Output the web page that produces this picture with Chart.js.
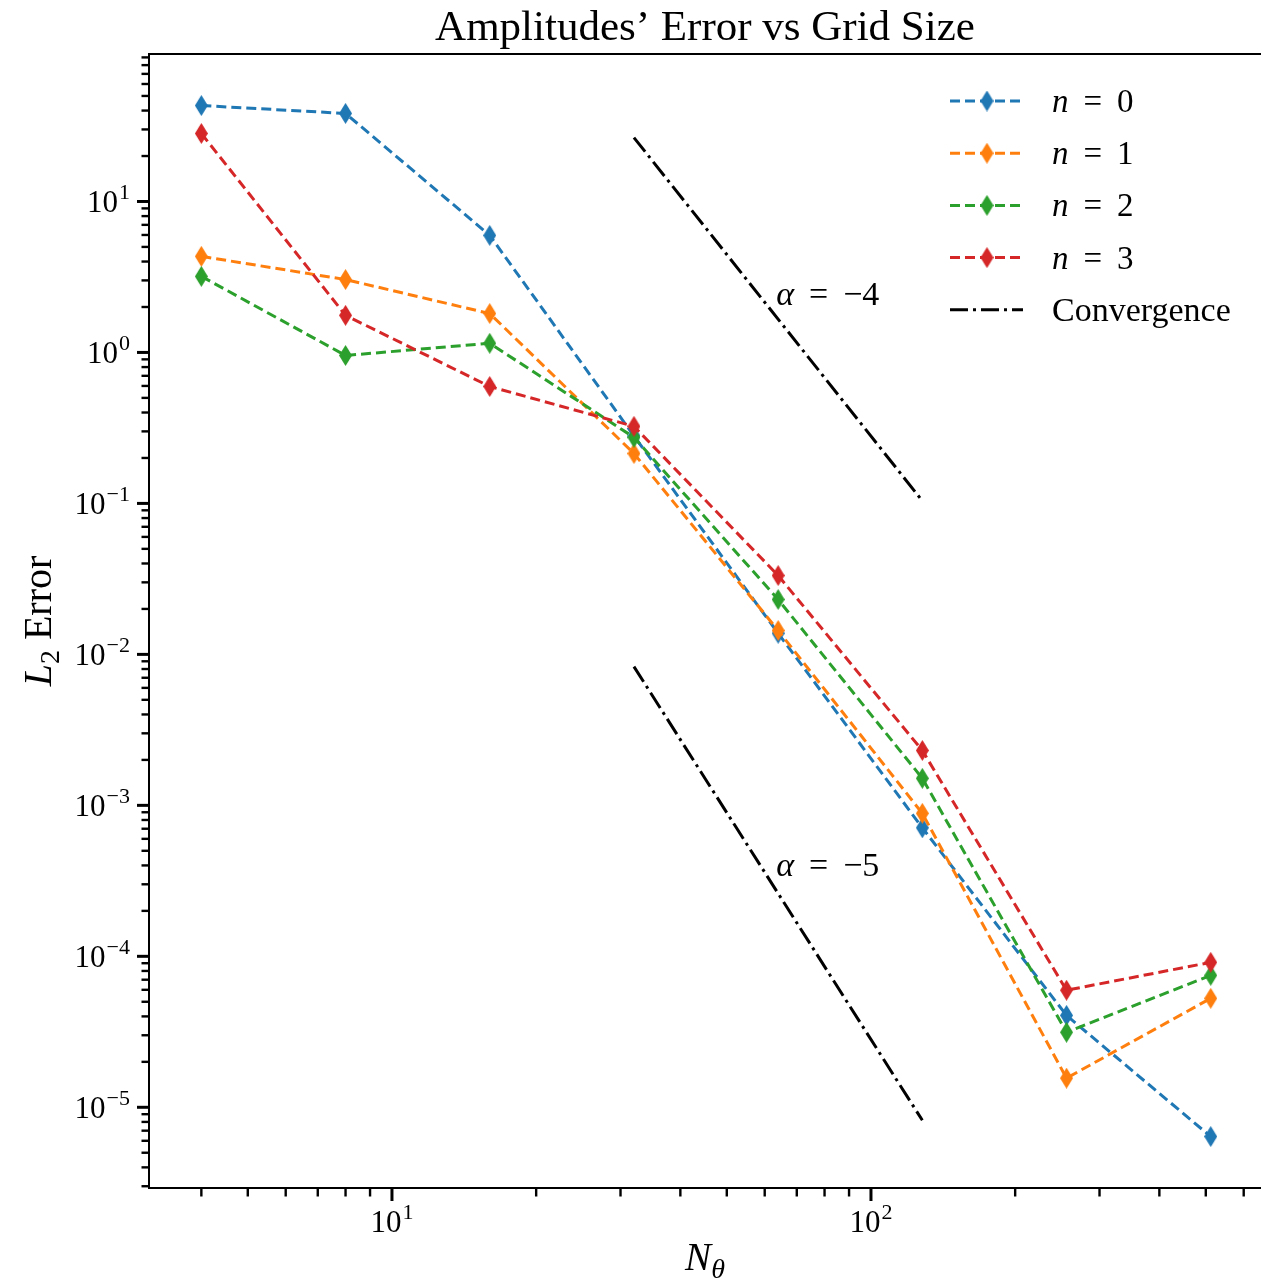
<!DOCTYPE html>
<html>
<head>
<meta charset="utf-8">
<title>Amplitudes' Error vs Grid Size</title>
<script src="https://cdn.jsdelivr.net/npm/chart.js@4.4.0/dist/chart.umd.min.js"></script>
<style>
  html, body { margin: 0; padding: 0; background: #fff; overflow: hidden; }
  #errChart { display: block; }
</style>
</head>
<body>
<canvas id="errChart" width="1261" height="1283"></canvas>
<script>
// grid sizes N_theta and the L2 error of each mode
const gridSizes = [4, 8, 16, 32, 64, 128, 256, 512];
const errN0 = [43.2, 38.3, 5.96, 0.28, 0.0138, 7.1e-4, 4.06e-5, 6.4e-6];
const errN1 = [4.33, 3.04, 1.81, 0.214, 0.0144, 8.85e-4, 1.56e-5, 5.27e-5];
const errN2 = [3.19, 0.955, 1.15, 0.274, 0.0231, 1.51e-3, 3.14e-5, 7.48e-5];
const errN3 = [28.2, 1.76, 0.595, 0.324, 0.0333, 2.31e-3, 5.96e-5, 9.12e-5];

// reference convergence slopes
const convX = [32, 128];
const convAlpha4 = [26.5, 0.104];
const convAlpha5 = [8.3e-3, 8.2e-6];
const slopeNotes = ["α = −4", "α = −5"];
const slopeNoteX = [64, 64];
const slopeNoteY = [2.05, 3.4e-4];

const seriesLabels = ["n = 0", "n = 1", "n = 2", "n = 3", "Convergence"];
const seriesColors = ["#1f77b4", "#ff7f0e", "#2ca02c", "#d62728"];

const xMajorTicks = [10, 100];
const yMajorTicks = [1e-5, 1e-4, 1e-3, 1e-2, 1e-1, 1, 10];
const xRange = [3.11, 652];
const yRange = [2.92e-6, 94.8];

const SERIF = '"Liberation Serif", "Times New Roman", serif';
const DASHED = [10, 5];
const DASHDOT = [18, 5, 3, 5];

function logTicks(min, max) {
    const out = [];
    for (let e = Math.floor(Math.log10(min)); e <= Math.ceil(Math.log10(max)); e++) {
        for (let m = 1; m <= 9; m++) {
            const v = m * Math.pow(10, e);
            if (v >= min && v <= max) out.push(v);
        }
    }
    return out;
}

function isMajor(v) {
    const l = Math.log10(v);
    return Math.abs(l - Math.round(l)) < 1e-9;
}

function diamond(color) {
    const c = document.createElement("canvas");
    c.width = 13;
    c.height = 21;
    const g = c.getContext("2d");
    g.fillStyle = color;
    g.beginPath();
    g.moveTo(6.5, 0);
    g.lineTo(13, 10.5);
    g.lineTo(6.5, 21);
    g.lineTo(0, 10.5);
    g.closePath();
    g.fill();
    return c;
}

function seriesDataset(i, ys) {
    return {
        label: seriesLabels[i],
        data: gridSizes.map((x, k) => ({ x: x, y: ys[k] })),
        borderColor: seriesColors[i],
        backgroundColor: seriesColors[i],
        borderWidth: 3,
        borderDash: DASHED,
        pointStyle: diamond(seriesColors[i]),
        pointRadius: 6,
        pointHoverRadius: 6,
        tension: 0,
        order: 10 - i,
    };
}

function convDataset(ys) {
    return {
        label: "Convergence",
        data: convX.map((x, k) => ({ x: x, y: ys[k] })),
        borderColor: "#000",
        borderWidth: 3,
        borderDash: DASHDOT,
        pointRadius: 0,
        tension: 0,
        order: 20,
    };
}

// "n = 0" style labels: italic symbol, upright rest
function drawMath(ctx, text, x, y, size, gap) {
    const parts = text.split(" = ");
    ctx.textAlign = "left";
    ctx.font = "italic " + size + "px " + SERIF;
    ctx.fillText(parts[0], x, y);
    x += ctx.measureText(parts[0]).width + gap;
    ctx.font = size + "px " + SERIF;
    ctx.fillText("=", x, y);
    x += ctx.measureText("=").width + gap;
    ctx.fillText(parts[1], x, y);
}

function drawPow(ctx, v, x, y, align) {
    const exp = Math.round(Math.log10(v));
    const sup = exp < 0 ? "−" + (-exp) : String(exp);
    ctx.textAlign = "left";
    ctx.font = "31px " + SERIF;
    const wb = ctx.measureText("10").width;
    ctx.font = "22px " + SERIF;
    const ws = ctx.measureText(sup).width;
    const total = wb + 1 + ws;
    const left = align === "right" ? x - total : x - total / 2;
    ctx.font = "31px " + SERIF;
    ctx.fillText("10", left, y);
    ctx.font = "22px " + SERIF;
    ctx.fillText(sup, left + wb + 1, y - 13);
}

const decorPlugin = {
    id: "decor",
    afterDraw(chart) {
        const ctx = chart.ctx;
        const a = chart.chartArea;
        const xs = chart.scales.x;
        const ys = chart.scales.y;
        ctx.save();
        ctx.fillStyle = "#000";
        ctx.strokeStyle = "#000";

        // spines
        ctx.lineWidth = 2;
        ctx.setLineDash([]);
        ctx.beginPath();
        ctx.moveTo(a.left, a.top);
        ctx.lineTo(a.left, a.bottom);
        ctx.moveTo(a.left - 1, a.bottom);
        ctx.lineTo(a.right, a.bottom);
        ctx.moveTo(a.left - 1, a.top);
        ctx.lineTo(a.right, a.top);
        ctx.stroke();

        // ticks
        xs.ticks.forEach((t) => {
            const px = xs.getPixelForValue(t.value);
            const maj = isMajor(t.value);
            ctx.lineWidth = maj ? 3 : 2.4;
            ctx.beginPath();
            ctx.moveTo(px, a.bottom);
            ctx.lineTo(px, a.bottom + (maj ? 13 : 8.5));
            ctx.stroke();
            if (maj) drawPow(ctx, t.value, px, 1232, "center");
        });
        ys.ticks.forEach((t) => {
            const py = ys.getPixelForValue(t.value);
            const maj = isMajor(t.value);
            ctx.lineWidth = maj ? 3 : 2.4;
            ctx.beginPath();
            ctx.moveTo(a.left, py);
            ctx.lineTo(a.left - (maj ? 12 : 7.5), py);
            ctx.stroke();
            if (maj) drawPow(ctx, t.value, 130, py + 11, "right");
        });

        // title
        ctx.textAlign = "center";
        ctx.font = "43px " + SERIF;
        ctx.fillText("Amplitudes’ Error vs Grid Size", (a.left + a.right) / 2, 40);

        // x label N_theta
        ctx.font = "italic 39px " + SERIF;
        const wN = ctx.measureText("N").width;
        ctx.font = "italic 28px " + SERIF;
        const wT = ctx.measureText("θ").width;
        let lx = (a.left + a.right) / 2 - (wN + wT) / 2;
        ctx.textAlign = "left";
        ctx.font = "italic 39px " + SERIF;
        ctx.fillText("N", lx, 1270);
        ctx.font = "italic 28px " + SERIF;
        ctx.fillText("θ", lx + wN, 1278);

        // y label L_2 Error
        ctx.save();
        ctx.translate(51, (a.top + a.bottom) / 2);
        ctx.rotate(-Math.PI / 2);
        ctx.font = "italic 40px " + SERIF;
        const wL = ctx.measureText("L").width;
        ctx.font = "28px " + SERIF;
        const w2 = ctx.measureText("2").width;
        ctx.font = "40px " + SERIF;
        const wE = ctx.measureText(" Error").width;
        let ty = -(wL + w2 + wE) / 2;
        ctx.font = "italic 40px " + SERIF;
        ctx.fillText("L", ty, 0);
        ctx.font = "28px " + SERIF;
        ctx.fillText("2", ty + wL, 8);
        ctx.font = "40px " + SERIF;
        ctx.fillText(" Error", ty + wL + w2, 0);
        ctx.restore();

        // slope notes
        slopeNotes.forEach((s, i) => {
            drawMath(ctx, s, xs.getPixelForValue(slopeNoteX[i]) - 2, ys.getPixelForValue(slopeNoteY[i]), 34, 15);
        });

        // legend
        const sets = chart.data.datasets;
        for (let i = 0; i < 5; i++) {
            const d = sets[i];
            const ly = 101 + i * 52.2;
            ctx.strokeStyle = d.borderColor;
            ctx.lineWidth = d.borderWidth;
            ctx.setLineDash(d.borderDash);
            ctx.beginPath();
            ctx.moveTo(950, ly);
            ctx.lineTo(1023, ly);
            ctx.stroke();
            ctx.setLineDash([]);
            if (i < 4) ctx.drawImage(d.pointStyle, 987 - 6.5, ly - 10.5);
            ctx.fillStyle = "#000";
            if (i < 4) drawMath(ctx, seriesLabels[i], 1052, ly + 11, 33, 15);
            else {
                ctx.textAlign = "left";
                ctx.font = "34px " + SERIF;
                ctx.fillText(seriesLabels[i], 1052, ly + 11);
            }
        }
        ctx.restore();
    },
};

const errChart = new Chart(document.getElementById("errChart"), {
    type: "line",
    data: {
        datasets: [
            seriesDataset(0, errN0),
            seriesDataset(1, errN1),
            seriesDataset(2, errN2),
            seriesDataset(3, errN3),
            convDataset(convAlpha4),
            convDataset(convAlpha5),
        ],
    },
    options: {
        responsive: false,
        animation: false,
        events: [],
        layout: { autoPadding: false, padding: { top: 54, left: 0, right: 0, bottom: 0 } },
        plugins: { legend: { display: false }, tooltip: { enabled: false } },
        scales: {
            x: {
                type: "logarithmic",
                min: xRange[0],
                max: xRange[1],
                grid: { display: false },
                border: { display: false },
                ticks: { display: false },
                afterBuildTicks: (s) => {
                    s.ticks = logTicks(xRange[0], xRange[1]).map((v) => ({ value: v, major: xMajorTicks.includes(v) }));
                },
                afterFit: (s) => { s.height = 1283 - 1188; },
            },
            y: {
                type: "logarithmic",
                min: yRange[0],
                max: yRange[1],
                grid: { display: false },
                border: { display: false },
                ticks: { display: false },
                afterBuildTicks: (s) => {
                    s.ticks = logTicks(yRange[0], yRange[1]).map((v) => ({ value: v, major: yMajorTicks.some((m) => Math.abs(m - v) < m * 1e-9) }));
                },
                afterFit: (s) => { s.width = 149; },
            },
        },
    },
    plugins: [decorPlugin],
});
</script>
</body>
</html>
